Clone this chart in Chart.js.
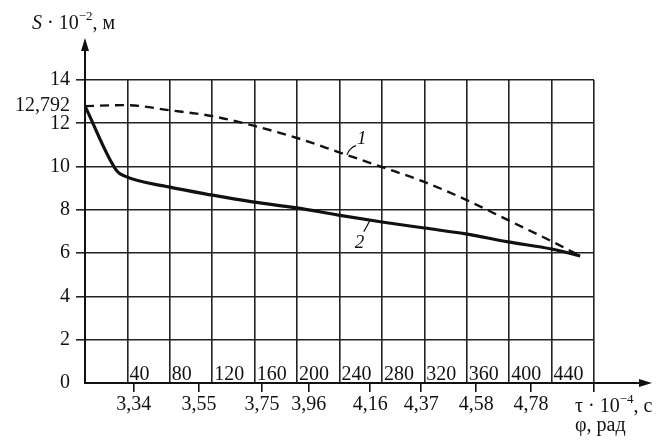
<!DOCTYPE html>
<html><head><meta charset="utf-8">
<script src="https://cdn.jsdelivr.net/npm/chart.js@4/dist/chart.umd.min.js"></script>
<style>html,body{margin:0;padding:0;background:#fff;}canvas{display:block;}</style>
</head><body>
<canvas id="c" width="662" height="446"></canvas>
<script>
// Curve 1 (dashed): phi, rad -> S·10^-2, m
const phi1 = [0, 38, 80, 120, 158, 200, 239, 280, 320, 360, 400, 440, 467];
const s1   = [12.792, 12.84, 12.6, 12.33, 11.9, 11.32, 10.67, 9.98, 9.29, 8.45, 7.5, 6.55, 5.87];
// Curve 2 (solid)
const phi2 = [0, 30, 37, 79, 119, 158, 200, 239, 280, 320, 359, 399, 440, 467];
const s2   = [12.792, 9.8, 9.57, 9.06, 8.69, 8.37, 8.09, 7.76, 7.44, 7.16, 6.89, 6.52, 6.19, 5.87];
// Y tick values
const yTickValues = [0, 2, 4, 6, 8, 10, 12, 12.792, 14];
// tau·10^-4 tick labels and the phi at which each is marked
const tauLabels = ['3,34', '3,55', '3,75', '3,96', '4,16', '4,37', '4,58', '4,78', ''];
const tauAtPhi  = [46, 107.5, 167, 211, 269, 317, 369, 420.5, 480];

const INK = '#111';
const GRID = '#222';
const FAM = '"Liberation Serif", "DejaVu Serif", serif';
const fmt = v => String(v).replace('.', ',');

function runs(ctx, x, base, parts) {
  for (const p of parts) {
    ctx.font = p.f;
    ctx.fillText(p.t, x, base + (p.dy || 0));
    x += ctx.measureText(p.t).width;
  }
}
function arrow(ctx, tx, ty, dir) {
  ctx.beginPath();
  if (dir === 'up') { ctx.moveTo(tx, ty); ctx.lineTo(tx - 4, ty + 13); ctx.lineTo(tx + 4, ty + 13); }
  else { ctx.moveTo(tx, ty); ctx.lineTo(tx - 13, ty - 4); ctx.lineTo(tx - 13, ty + 4); }
  ctx.closePath(); ctx.fill();
}

const deco = {
  id: 'deco',
  afterDraw(chart) {
    const {ctx, chartArea: a, scales: {x, y}} = chart;
    ctx.save();
    ctx.strokeStyle = INK; ctx.fillStyle = INK; ctx.lineWidth = 2;
    // axis extensions with arrows
    ctx.beginPath(); ctx.moveTo(a.left, a.top); ctx.lineTo(a.left, a.top - 32); ctx.stroke();
    arrow(ctx, a.left, a.top - 42, 'up');
    ctx.beginPath(); ctx.moveTo(a.right, a.bottom); ctx.lineTo(a.right + 50, a.bottom); ctx.stroke();
    arrow(ctx, a.right + 58, a.bottom, 'right');
    ctx.textBaseline = 'alphabetic'; ctx.textAlign = 'left';
    const big = '20px ' + FAM, small = '13px ' + FAM;
    // phi tick labels, written just right of each grid line inside the plot
    ctx.font = big;
    for (const t of x.ticks) {
      if (t.value === 0 || t.value === 480) continue;
      ctx.fillText(String(t.value), x.getPixelForValue(t.value) + 2, a.bottom - 3);
    }
    // y axis title
    runs(ctx, 32, 29, [
      {t: 'S', f: 'italic ' + big}, {t: ' · 10', f: big},
      {t: '−2', f: small, dy: -9}, {t: ', м', f: big}
    ]);
    // x axis titles
    runs(ctx, 575, 412, [{t: 'τ · 10', f: big}, {t: '−4', f: small, dy: -9}, {t: ', с', f: big}]);
    runs(ctx, 575, 431, [{t: 'φ, рад', f: big}]);
    // curve labels with leader lines
    ctx.lineWidth = 1.2;
    const p1 = [x.getPixelForValue(247), y.getPixelForValue(10.55)];
    ctx.beginPath(); ctx.moveTo(p1[0], p1[1]); ctx.quadraticCurveTo(p1[0] + 3, p1[1] - 7, p1[0] + 9, p1[1] - 9); ctx.stroke();
    ctx.font = 'italic 19px ' + FAM;
    ctx.fillText('1', p1[0] + 10, p1[1] - 11);
    const p2 = [x.getPixelForValue(268.5), y.getPixelForValue(7.5)];
    ctx.beginPath(); ctx.moveTo(p2[0], p2[1]); ctx.quadraticCurveTo(p2[0] - 3, p2[1] + 6, p2[0] - 6, p2[1] + 11); ctx.stroke();
    ctx.fillText('2', p2[0] - 15, p2[1] + 27);
    ctx.restore();
  }
};

new Chart(document.getElementById('c'), {
  type: 'line',
  data: {
    datasets: [
      {
        label: '1',
        data: phi1.map((p, i) => ({x: p, y: s1[i]})),
        borderColor: INK, borderWidth: 2.4, borderDash: [9, 6],
        pointRadius: 0, cubicInterpolationMode: 'monotone', fill: false
      },
      {
        label: '2',
        data: phi2.map((p, i) => ({x: p, y: s2[i]})),
        borderColor: '#111', borderWidth: 3.2,
        pointRadius: 0, cubicInterpolationMode: 'monotone', fill: false
      }
    ]
  },
  options: {
    responsive: false,
    animation: false,
    devicePixelRatio: 1,
    layout: {padding: {top: 80, right: 68, left: 0, bottom: 0}},
    plugins: {legend: {display: false}, tooltip: {enabled: false}, title: {display: false}},
    scales: {
      x: {
        type: 'linear', position: 'bottom', weight: 0,
        min: 0, max: 480,
        afterFit: s => { s.height = 0; },
        grid: {color: GRID, lineWidth: 1.6, drawTicks: false},
        border: {display: true, color: INK, width: 2},
        ticks: {stepSize: 40, autoSkip: false, maxRotation: 0, minRotation: 0, display: false}
      },
      tau: {
        type: 'linear', position: 'bottom', weight: 1,
        min: 0, max: 480,
        afterBuildTicks: s => { s.ticks = tauAtPhi.map(v => ({value: v})); },
        afterFit: s => { s.height = 63; },
        grid: {drawOnChartArea: false, drawTicks: true, tickLength: 9, color: INK, lineWidth: 1.6},
        border: {display: false},
        ticks: {
          autoSkip: false, maxRotation: 0, minRotation: 0, padding: 1,
          color: INK, font: {family: FAM, size: 20},
          callback: (v, i) => tauLabels[i] ?? ''
        }
      },
      y: {
        type: 'linear', min: 0, max: 14,
        afterBuildTicks: s => { s.ticks = yTickValues.map(v => ({value: v})); },
        afterFit: s => { s.width = 85; },
        grid: {
          lineWidth: 1.6, tickLength: 9,
          color: c => (c.tick && c.tick.value === 12.792) ? 'rgba(0,0,0,0)' : GRID,
          tickColor: c => (c.tick && (c.tick.value === 12.792 || c.tick.value === 0)) ? 'rgba(0,0,0,0)' : GRID
        },
        border: {display: true, color: INK, width: 2},
        ticks: {
          autoSkip: false, padding: 6, color: INK, font: {family: FAM, size: 20},
          callback: v => fmt(v)
        }
      }
    }
  },
  plugins: [deco]
});
</script>
</body></html>
